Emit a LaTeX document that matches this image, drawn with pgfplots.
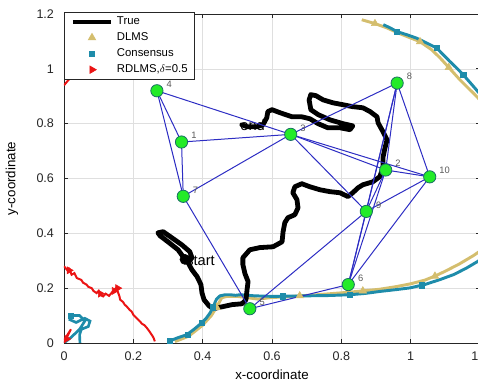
\documentclass[border=0pt]{standalone}
\usepackage{pgfplots}
\pgfplotsset{compat=1.18}
\usepackage{fontspec}
\setmainfont{Liberation Sans}
\definecolor{dlms}{RGB}{212,190,110}
\definecolor{cons}{RGB}{30,140,170}
\definecolor{rdlms}{RGB}{235,20,20}
\definecolor{edgec}{RGB}{45,45,195}
\definecolor{nodefill}{RGB}{35,235,40}
\definecolor{nodeedge}{RGB}{25,110,100}
\definecolor{tickc}{RGB}{38,38,38}
\definecolor{gridc}{RGB}{223,223,223}
\begin{document}
\begin{tikzpicture}
\begin{axis}[name=ax, scale only axis, width=312pt, height=246.75pt,
  xmin=0, xmax=1.2, ymin=0, ymax=1.2,
  xtick={0,0.2,0.4,0.6,0.8,1,1.2}, ytick={0,0.2,0.4,0.6,0.8,1,1.2},
  tick pos=both, ticklabel pos=left, tick align=inside, major tick length=3pt,
  axis line style={tickc, line width=0.5pt}, tick style={tickc, line width=0.5pt},
  grid=major, grid style={gridc, line width=0.4pt},
  /pgf/number format/assume math mode=true,
  tick label style={font=\fontsize{9.4}{11}\selectfont, text=tickc},
  xticklabel style={yshift=-3pt}, yticklabel style={xshift=-4pt},
  xlabel={x-coordinate}, ylabel={y-coordinate},
  label style={font=\fontsize{10.6}{12}\selectfont, text=tickc},
  every axis x label/.style={at={(axis description cs:0.5,-0.097)}, anchor=center},
  every axis y label/.style={at={(axis description cs:-0.125,0.5)}, rotate=90, anchor=center},
  legend cell align=left,
  legend image code/.code={\draw[mark repeat=2,mark phase=2,#1] plot coordinates {(0pt,0pt) (14.25pt,0pt) (28.5pt,0pt)};},
  legend style={at={(axis description cs:0,1.007)}, anchor=north west, draw=tickc, line width=0.5pt, fill=white,
    font=\fontsize{8.5}{10}\selectfont, inner xsep=5pt, inner ysep=3pt, row sep=3.5pt,
    nodes={inner sep=0pt, text height=6.5pt, text depth=2pt},
    /tikz/every odd column/.append style={column sep=3pt}},
]
\addlegendimage{black, line width=3pt}
\addlegendentry{True}
\addlegendimage{only marks, mark=triangle*, mark size=3.2pt, dlms, mark options={fill=dlms, draw=dlms}}
\addlegendentry{DLMS}
\addlegendimage{only marks, mark=square*, mark size=2pt, cons, mark options={fill=cons, draw=cons}}
\addlegendentry{Consensus}
\addlegendimage{only marks, mark=triangle*, mark size=3.2pt, rdlms, mark options={fill=rdlms, draw=rdlms, rotate=-90}}
\addlegendentry{RDLMS,$\delta$=0.5}

% DLMS (khaki)
\addplot[dlms, line width=2.2pt, forget plot] coordinates {
(0.32,0.005) (0.36,0.025) (0.40,0.065) (0.425,0.10) (0.44,0.13) (0.455,0.165) (0.47,0.17) (0.50,0.17)
(0.53,0.165) (0.56,0.16) (0.60,0.166) (0.64,0.168) (0.68,0.172) (0.72,0.175) (0.77,0.18) (0.82,0.185)
(0.862,0.19) (0.91,0.196) (0.96,0.206) (1.00,0.216) (1.04,0.229) (1.07,0.244) (1.10,0.262) (1.14,0.288)
(1.18,0.318) (1.22,0.352)};
\addplot[dlms, line width=2.2pt, forget plot] coordinates {
(0.859,1.179) (0.897,1.165) (0.93,1.150) (0.969,1.128) (1.027,1.099) (1.06,1.070) (1.084,1.041)
(1.11,1.005) (1.142,0.960) (1.185,0.906) (1.22,0.860)};
\addplot[only marks, mark=triangle*, mark size=3.2pt, mark options={fill=dlms, draw=dlms}, forget plot] coordinates {
(0.44,0.13) (0.68,0.172) (0.862,0.19) (1.07,0.244) (0.897,1.165) (1.027,1.099) (1.11,1.005)};

% Consensus (teal)
\addplot[cons, line width=2.2pt, forget plot] coordinates {
(0.306,0.008) (0.33,0.020) (0.354,0.030) (0.375,0.050) (0.397,0.073) (0.41,0.090) (0.421,0.109)
(0.43,0.130) (0.435,0.146) (0.44,0.160) (0.450,0.172) (0.465,0.176) (0.479,0.176) (0.495,0.174)
(0.508,0.176) (0.55,0.172) (0.603,0.170) (0.65,0.171) (0.700,0.172) (0.76,0.173) (0.825,0.176)
(0.87,0.181) (0.911,0.188) (0.96,0.195) (0.998,0.201) (1.04,0.213) (1.084,0.231) (1.125,0.250)
(1.162,0.274) (1.194,0.298) (1.229,0.333)};
\addplot[cons, line width=2.2pt, forget plot] coordinates {
(0.921,1.161) (0.94,1.150) (0.960,1.136) (0.99,1.124) (1.017,1.112) (1.045,1.095) (1.075,1.076)
(1.095,1.050) (1.113,1.027) (1.135,1.000) (1.152,0.978) (1.181,0.936) (1.214,0.887)};
\addplot[cons, line width=2pt, forget plot] coordinates {
(0.0,0.0) (0.02,0.02) (0.045,0.05) (0.06,0.08) (0.045,0.10) (0.02,0.10) (0.017,0.085) (0.035,0.075)
(0.06,0.09) (0.075,0.08) (0.07,0.06) (0.05,0.05) (0.045,0.03) (0.046,0.0)};
\addplot[only marks, mark=square*, mark size=2pt, mark options={fill=cons, draw=cons}, forget plot] coordinates {
(0.306,0.008) (0.357,0.031) (0.398,0.073) (0.43,0.13) (0.632,0.171) (0.825,0.176) (1.032,0.211)
(0.960,1.136) (1.075,1.076) (1.152,0.978) (0.02,0.10)};

% RDLMS (red)
\addplot[rdlms, line width=1.5pt, forget plot] coordinates {
(0.0,0.28) (0.01,0.265) (0.015,0.27) (0.022,0.249) (0.03,0.255) (0.037,0.237) (0.05,0.23) (0.055,0.22)
(0.065,0.213) (0.07,0.205) (0.08,0.20) (0.085,0.19) (0.094,0.182) (0.10,0.19) (0.105,0.175) (0.113,0.170)
(0.12,0.18) (0.13,0.172) (0.142,0.19) (0.15,0.20) (0.155,0.188) (0.16,0.17) (0.162,0.158) (0.17,0.15)
(0.175,0.14) (0.181,0.133) (0.19,0.12) (0.195,0.115) (0.20,0.103) (0.21,0.09) (0.219,0.079) (0.225,0.07)
(0.232,0.065) (0.239,0.055) (0.245,0.045) (0.253,0.030) (0.258,0.02) (0.262,0.006)};
\addplot[rdlms, line width=1.5pt, forget plot] coordinates {
(0.0,0.0) (0.02,0.05) (0.005,0.02) (0.0,0.01)};
\addplot[rdlms, line width=1.5pt, forget plot] coordinates {
(0.0,0.94) (0.04,1.0) (0.10,1.07) (0.17,1.14) (0.22,1.19) (0.24,1.21)};
\addplot[only marks, mark=triangle*, mark size=3pt, mark options={fill=rdlms, draw=rdlms, rotate=-90}, forget plot] coordinates {
(0.015,0.265) (0.105,0.18) (0.145,0.19) (0.155,0.20) (0.008,0.015)};

% True trajectory
\addplot[black, line width=3.6pt, line join=round, line cap=round, forget plot] coordinates {
(0.349,0.305) (0.329,0.340) (0.300,0.369) (0.277,0.391) (0.271,0.402) (0.286,0.406) (0.311,0.384)
(0.340,0.358) (0.363,0.333) (0.369,0.311) (0.358,0.293) (0.369,0.267) (0.384,0.242) (0.395,0.213)
(0.398,0.183) (0.404,0.158) (0.418,0.136) (0.430,0.125) (0.456,0.132) (0.485,0.140) (0.513,0.143)
(0.525,0.158) (0.528,0.194) (0.531,0.224) (0.522,0.253) (0.516,0.286) (0.516,0.311) (0.536,0.340)
(0.565,0.348) (0.603,0.351) (0.629,0.369) (0.632,0.406) (0.637,0.439) (0.646,0.457) (0.666,0.468)
(0.675,0.493) (0.672,0.523) (0.660,0.548) (0.666,0.570) (0.686,0.581) (0.709,0.570) (0.738,0.559)
(0.767,0.552) (0.796,0.548) (0.819,0.534) (0.833,0.548) (0.848,0.566) (0.862,0.577) (0.891,0.588)
(0.911,0.607) (0.920,0.639) (0.920,0.676) (0.926,0.712) (0.932,0.741) (0.920,0.771) (0.906,0.803)
(0.903,0.825) (0.883,0.844) (0.862,0.858) (0.833,0.862) (0.805,0.869) (0.776,0.876) (0.747,0.887)
(0.727,0.902) (0.712,0.906) (0.707,0.887) (0.712,0.851) (0.733,0.833) (0.767,0.814) (0.805,0.800)
(0.833,0.792) (0.825,0.778) (0.796,0.785) (0.761,0.785) (0.733,0.800) (0.709,0.818) (0.686,0.825)
(0.658,0.825) (0.623,0.840) (0.600,0.851) (0.588,0.844) (0.585,0.822) (0.574,0.796) (0.557,0.789)
(0.528,0.789) (0.513,0.796)};
\addplot[only marks, mark=*, mark size=3.8pt, black, forget plot] coordinates {(0.349,0.305)};
\node[anchor=west, inner sep=0pt, font=\fontsize{11}{13}\selectfont] at (axis cs:0.352,0.300) {start};
\node[anchor=west, inner sep=0pt, font=\fontsize{11}{13}\selectfont] at (axis cs:0.508,0.796) {end};

% network edges
\addplot[edgec, line width=0.75pt, forget plot] coordinates {(0.268,0.920) (0.339,0.733)};
\addplot[edgec, line width=0.75pt, forget plot] coordinates {(0.268,0.920) (0.344,0.535)};
\addplot[edgec, line width=0.75pt, forget plot] coordinates {(0.268,0.920) (0.654,0.761)};
\addplot[edgec, line width=0.75pt, forget plot] coordinates {(0.339,0.733) (0.344,0.535)};
\addplot[edgec, line width=0.75pt, forget plot] coordinates {(0.339,0.733) (0.654,0.761)};
\addplot[edgec, line width=0.75pt, forget plot] coordinates {(0.344,0.535) (0.654,0.761)};
\addplot[edgec, line width=0.75pt, forget plot] coordinates {(0.344,0.535) (0.536,0.125)};
\addplot[edgec, line width=0.75pt, forget plot] coordinates {(0.654,0.761) (0.961,0.948)};
\addplot[edgec, line width=0.75pt, forget plot] coordinates {(0.654,0.761) (0.928,0.631)};
\addplot[edgec, line width=0.75pt, forget plot] coordinates {(0.654,0.761) (1.055,0.606)};
\addplot[edgec, line width=0.75pt, forget plot] coordinates {(0.654,0.761) (0.872,0.480)};
\addplot[edgec, line width=0.75pt, forget plot] coordinates {(0.961,0.948) (0.928,0.631)};
\addplot[edgec, line width=0.75pt, forget plot] coordinates {(0.961,0.948) (0.872,0.480)};
\addplot[edgec, line width=0.75pt, forget plot] coordinates {(0.961,0.948) (0.820,0.213)};
\addplot[edgec, line width=0.75pt, forget plot] coordinates {(0.961,0.948) (1.055,0.606)};
\addplot[edgec, line width=0.75pt, forget plot] coordinates {(0.928,0.631) (1.055,0.606)};
\addplot[edgec, line width=0.75pt, forget plot] coordinates {(0.928,0.631) (0.872,0.480)};
\addplot[edgec, line width=0.75pt, forget plot] coordinates {(0.928,0.631) (0.820,0.213)};
\addplot[edgec, line width=0.75pt, forget plot] coordinates {(0.872,0.480) (1.055,0.606)};
\addplot[edgec, line width=0.75pt, forget plot] coordinates {(0.872,0.480) (0.820,0.213)};
\addplot[edgec, line width=0.75pt, forget plot] coordinates {(0.872,0.480) (0.536,0.125)};
\addplot[edgec, line width=0.75pt, forget plot] coordinates {(0.820,0.213) (0.536,0.125)};
\addplot[edgec, line width=0.75pt, forget plot] coordinates {(0.820,0.213) (1.055,0.606)};

% nodes
\addplot[only marks, mark=*, mark size=4.6pt, mark options={fill=nodefill, draw=nodeedge, line width=0.6pt},
  nodes near coords, point meta=explicit symbolic,
  every node near coord/.append style={anchor=south west, inner sep=0pt, xshift=7pt, yshift=2pt,
    font=\fontsize{7}{8}\selectfont, text=black!65}, forget plot] coordinates {
(0.339,0.733) [1] (0.928,0.631) [2] (0.654,0.761) [3] (0.268,0.920) [4] (0.536,0.125) [5]
(0.820,0.213) [6] (0.344,0.535) [7] (0.961,0.948) [8] (0.872,0.480) [9] (1.055,0.606) [10]};
\end{axis}
\pgfresetboundingbox
\path (ax.south west) ++(-48pt,-31.5pt) rectangle ++(358.5pt,288.75pt);
\end{tikzpicture}
\end{document}
